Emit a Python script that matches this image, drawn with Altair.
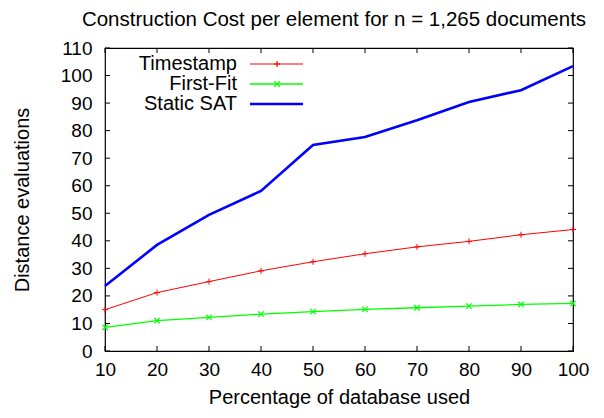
import altair as alt
import pandas as pd

pct = [10, 20, 30, 40, 50, 60, 70, 80, 90, 100]
timestamp = [15.0, 21.2, 25.2, 29.1, 32.4, 35.3, 37.8, 39.8, 42.2, 44.1]
first_fit = [8.6, 11.0, 12.2, 13.4, 14.3, 15.1, 15.7, 16.3, 16.9, 17.3]
static_sat = [23.6, 38.5, 49.4, 58.1, 74.8, 77.7, 83.8, 90.4, 94.7, 103.4]
series_names = ["Timestamp", "First-Fit", "Static SAT"]
series_colors = ["#ff0000", "#00ff00", "#0000ff"]
x_ticks = [10, 20, 30, 40, 50, 60, 70, 80, 90, 100]
y_ticks = [0, 10, 20, 30, 40, 50, 60, 70, 80, 90, 100, 110]

W, H = 468, 303
FONT = "Liberation Sans"
FS = 19
PLUS = "M-1,0L1,0M0,-1L0,1"
CROSS = "M-1,-1L1,1M-1,1L1,-1"

df = pd.DataFrame({"pct": pct, "Timestamp": timestamp, "First-Fit": first_fit, "Static SAT": static_sat})

xs = alt.Scale(domain=[10, 100], nice=False, zero=False)
ys = alt.Scale(domain=[0, 110], nice=False)
xaxis = alt.Axis(values=x_ticks, title="Percentage of database used", labelPadding=9, titlePadding=8,
                 labelOverlap=False, labelFlush=False)
yaxis = alt.Axis(values=y_ticks, title="Distance evaluations", labelPadding=13, titlePadding=28,
                 labelOverlap=False, labelFlush=False)

xenc = alt.X("pct:Q", scale=xs, axis=xaxis)
def yenc(field):
    return alt.Y(f"{field}:Q", scale=ys, axis=yaxis)

base = alt.Chart(df)
layers = []
# series lines
layers.append(base.mark_line(color=series_colors[0], strokeWidth=1).encode(x=xenc, y=yenc("Timestamp")))
layers.append(base.mark_point(shape=PLUS, size=36, color=series_colors[0], strokeWidth=1, filled=False, opacity=1)
              .encode(x=xenc, y=yenc("Timestamp")))
layers.append(base.mark_line(color=series_colors[1], strokeWidth=1.3).encode(x=xenc, y=yenc("First-Fit")))
layers.append(base.mark_point(shape=CROSS, size=30, color=series_colors[1], strokeWidth=1.2, filled=False, opacity=1)
              .encode(x=xenc, y=yenc("First-Fit")))
layers.append(base.mark_line(color=series_colors[2], strokeWidth=2.6).encode(x=xenc, y=yenc("Static SAT")))

# inward tick marks on all four sides
xt = alt.Chart(pd.DataFrame({"t": x_ticks}))
yt = alt.Chart(pd.DataFrame({"t": y_ticks}))
layers.append(xt.mark_rule(color="black", strokeWidth=1).encode(
    x=alt.X("t:Q", scale=xs, axis=xaxis), y=alt.value(H - 5), y2=alt.value(H)))
layers.append(xt.mark_rule(color="black", strokeWidth=1).encode(
    x=alt.X("t:Q", scale=xs, axis=xaxis), y=alt.value(0), y2=alt.value(5)))
layers.append(yt.mark_rule(color="black", strokeWidth=1).encode(
    y=alt.Y("t:Q", scale=ys, axis=yaxis), x=alt.value(0), x2=alt.value(5)))
layers.append(yt.mark_rule(color="black", strokeWidth=1).encode(
    y=alt.Y("t:Q", scale=ys, axis=yaxis), x=alt.value(W - 5), x2=alt.value(W)))

# legend (gnuplot style: label then sample)
widths = [1, 1.3, 2.6]
shapes = [PLUS, CROSS, None]
for i, name in enumerate(series_names):
    ly = 16 + 20 * i
    ld = alt.Chart(pd.DataFrame({"name": [name]}))
    layers.append(ld.mark_text(align="right", baseline="middle", fontSize=20, font=FONT, color="black").encode(
        text="name:N", x=alt.value(132), y=alt.value(ly)))
    layers.append(ld.mark_rule(color=series_colors[i], strokeWidth=widths[i]).encode(
        x=alt.value(145), x2=alt.value(198), y=alt.value(ly)))
    if shapes[i]:
        layers.append(ld.mark_point(shape=shapes[i], size=36 if i == 0 else 30, color=series_colors[i],
                                    strokeWidth=1.2, filled=False, opacity=1).encode(
            x=alt.value(172), y=alt.value(ly)))

chart = alt.layer(*layers).properties(
    width=W, height=H,
    title=alt.TitleParams("Construction Cost per element for n = 1,265 documents", fontSize=20.5, font=FONT,
                          fontWeight="normal", offset=9, dx=-5, color="black"),
    autosize=alt.AutoSizeParams(type="none"),
    padding={"left": 97, "top": 40, "right": 22, "bottom": 60},
).configure_view(stroke="black", strokeWidth=1.2).configure_axis(
    domain=False, ticks=False, grid=False, labelFont=FONT, labelFontSize=FS, labelColor="black",
    titleFont=FONT, titleFontSize=20, titleFontWeight="normal", titleColor="black"
)

chart.save("out.html", embed_options={"renderer": "svg", "actions": False})
